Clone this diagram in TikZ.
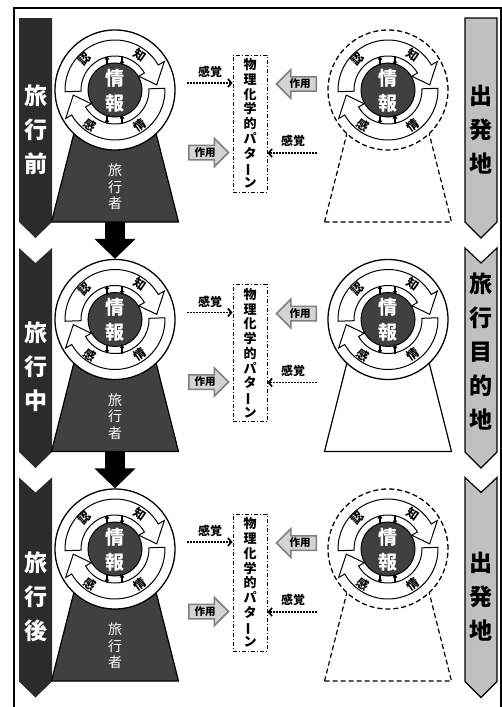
\documentclass[tikz,border=0pt]{standalone}
\usepackage{fontspec}
\usepackage{graphicx}
\setmainfont{Noto Sans CJK JP}
\usetikzlibrary{arrows.meta,shapes.arrows,calc}
\definecolor{darkarrow}{HTML}{2B2B2B}
\definecolor{darkfill}{HTML}{404040}
\definecolor{lightarrow}{HTML}{C0C0C0}
\definecolor{actfill}{HTML}{D4D4D4}
\definecolor{actdraw}{HTML}{7F7F7F}
\newcommand\fsz[2]{\fontsize{#1}{#2}\selectfont}
\tikzset{
  phasearrow/.style={fill=darkarrow},
  placearrow/.style={fill=lightarrow, draw=black, line width=1.2},
  phaselbl/.style={text=white, font=\fsz{23}{34}\bfseries, align=center, inner sep=0},
  placelbl/.style={text=black, font=\fsz{23}{34}\bfseries, align=center, inner sep=0},
  outer/.style={circle, draw=black, fill=white, line width=1.3, minimum size=120, inner sep=0},
  outerdash/.style={outer, dash pattern=on 5pt off 3pt},
  trapfill/.style={fill=darkfill, draw=black, line width=1.2},
  trapline/.style={fill=white, draw=black, line width=1.2},
  trapdash/.style={trapline, dash pattern=on 5pt off 3pt},
  ringarrow/.style={draw=black, fill=white, line width=1},
  core/.style={circle, fill=darkfill, draw=black, line width=1, minimum size=54, inner sep=0},
  corelbl/.style={text=white, font=\fsz{19}{20}\bfseries, inner sep=0},
  ringlbl/.style={text=black, font=\fsz{12}{13}\bfseries, inner sep=0},
  smallarr/.style={line width=1.3, -{Triangle[length=3.5pt,width=4.5pt]}},
  travlbl/.style={text=white, font=\fsz{14}{16.5}, align=center, inner sep=0},
  pbox/.style={draw=black, line width=0.9, dash pattern=on 4pt off 2pt on 1pt off 2pt, minimum width=34, minimum height=137, align=center, inner sep=0, font=\fsz{13}{14.75}\bfseries},
  senseline/.style={line width=1.9, dash pattern=on 1.6pt off 1.4pt, -{Straight Barb[length=3.5pt,width=8pt,line width=1.7pt]}},
  senselbl/.style={font=\fsz{12}{13}\bfseries, inner sep=0},
  act/.style={single arrow, draw=actdraw, fill=actfill, line width=1.5, single arrow head extend=7, inner xsep=5, inner ysep=1.5, font=\fsz{10.5}{11}\bfseries},
  bigarrow/.style={line width=20, -{Triangle[length=20pt,width=40pt]}},
  pics/ring/.style={code={
    \draw[ringarrow] (182:50) arc[start angle=182,end angle=30,radius=50] -- (30:57) -- (7:42) -- (30:27.5) -- (30:34) arc[start angle=30,end angle=182,radius=34] -- cycle;
    \draw[ringarrow] (2:50) arc[start angle=2,end angle=-150,radius=50] -- (210:57) -- (187:42) -- (210:27.5) -- (210:34) arc[start angle=-150,end angle=2,radius=34] -- cycle;
    \node[core] (-core) at (0,0) {};
    \node[corelbl] (-jo) at (0,12) {情};
    \node[corelbl] (-ho) at (0,-13) {報};
    \draw[smallarr] (-8,25) -- (-8,34);
    \draw[smallarr] (7,34) -- (7,25);
    \draw[smallarr] (-8,-25) -- (-8,-34);
    \draw[smallarr] (7,-34) -- (7,-25);
    \node[ringlbl, rotate=45] (-a) at (135:43) {認};
    \node[ringlbl, rotate=-35] (-b) at (55:43) {知};
    \node[ringlbl, rotate=-35] (-c) at (235:43) {感};
    \node[ringlbl, rotate=35] (-d) at (305:43) {情};
  }}
}
\begin{document}
\begin{tikzpicture}[x=1pt,y=1pt]
\useasboundingbox (0,0) rectangle (501,-707);
\draw[line width=1.5] (14,-720) -- (14,-8) -- (501,-8) -- (501,-720);
% phase arrows (left) and place arrows (right)
\fill[phasearrow] (19,-18) -- (52,-18) -- (52,-222) -- (35.5,-238) -- (19,-222) -- cycle;
\draw[placearrow] (465,-18) -- (497,-18) -- (497,-222) -- (481,-238) -- (465,-222) -- cycle;
\foreach \t in {248,477.5}{
  \fill[phasearrow] (19,-\t) -- (35.5,-\t-15) -- (52,-\t) -- (52,-\t-204) -- (35.5,-\t-220) -- (19,-\t-204) -- cycle;
  \draw[placearrow] (465,-\t) -- (481,-\t-15) -- (497,-\t) -- (497,-\t-204) -- (481,-\t-220) -- (465,-\t-204) -- cycle;
}
\node[phaselbl] (ph0) at (35.5,-130) {旅\\行\\前};
\node[phaselbl] (ph1) at (35.5,-367) {旅\\行\\中};
\node[phaselbl] (ph2) at (35.5,-597) {旅\\行\\後};
\node[placelbl] (pl0) at (481,-130) {出\\発\\地};
\node[placelbl] (pl1) at (481,-352) {旅\\行\\目\\的\\地};
\node[placelbl] (pl2) at (481,-597) {出\\発\\地};
% panels
\foreach \k in {0,1,2}{
  \begin{scope}[shift={(0,{-229.5*\k})}]
    % traveller (left)
    \begin{scope}[shift={(115,-90)}]
      \draw[trapfill] (-63.5,-132) -- (63.5,-132) -- (37.7,-30) -- (-37.7,-30) -- cycle;
      \coordinate (tb\k) at (0,-132);
      \node[travlbl] (tr\k) at (0,-97) {旅\\行\\者};
      \node[outer] (Lo\k) at (0,0) {};
      \pic (L\k) at (0,0) {ring};
    \end{scope}
    % place (right)
    \begin{scope}[shift={(388,-90)}]
      \ifnum\k=1
        \draw[trapline] (-63.5,-132) -- (63.5,-132) -- (37.7,-30) -- (-37.7,-30) -- cycle;
        \node[outer] (Ro\k) at (0,0) {};
      \else
        \draw[trapdash] (-63.5,-132) -- (63.5,-132) -- (37.7,-30) -- (-37.7,-30) -- cycle;
        \node[outerdash] (Ro\k) at (0,0) {};
      \fi
      \pic (R\k) at (0,0) {ring};
    \end{scope}
    % physico-chemical pattern box
    \node[pbox] (box\k) at (250,-123.5) {物\\理\\化\\学\\的\\パ\\タ\\\rotatebox[origin=c]{90}{ー}\\ン};
    \coordinate (sL\k) at (187,-83);
    \draw[senseline] (sL\k) -- (box\k.west |- sL\k);
    \node[senselbl] (sLl\k) at (210,-72) {感覚};
    \coordinate (sR\k) at (317,-153);
    \draw[senseline] (sR\k) -- (box\k.east |- sR\k);
    \node[senselbl] (sRl\k) at (293,-141) {感覚};
    \node[act, anchor=tail] (aL\k) at (188,-152.5) {作用};
    \node[act, anchor=tail, shape border rotate=180] (aR\k) at (317,-84) {作用};
  \end{scope}
}
\draw[bigarrow] (tb0) -- (Lo1.north);
\draw[bigarrow] (tb1) -- (Lo2.north);
\end{tikzpicture}
\end{document}
